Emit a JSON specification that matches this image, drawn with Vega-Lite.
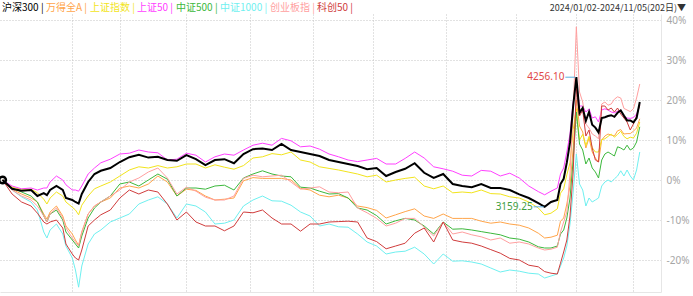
{
  "$schema": "https://vega.github.io/schema/vega-lite/v6.json",
  "width": 661,
  "height": 278,
  "autosize": {"type": "none"},
  "padding": {"left": 0, "top": 14, "right": 32, "bottom": 4},
  "background": "white",
  "title": {
    "text": "2024/01/02-2024/11/05(202日)▼",
    "anchor": "end",
    "frame": "group",
    "orient": "top",
    "offset": 0,
    "dx": 25,
    "dy": 10,
    "fontSize": 9,
    "fontWeight": "normal",
    "font": "Noto Sans CJK SC",
    "color": "#333333"
  },
  "config": {
    "view": {"stroke": null},
    "axis": {"labelFont": "Noto Sans", "titleFont": "Noto Sans"}
  },
  "datasets": {
    "main": [
      {"i":0,"沪深300":0,"万得全A":0,"上证指数":0,"上证50":0,"中证500":0,"中证1000":0,"创业板指":0,"科创50":0},
      {"i":3,"沪深300":-2.2,"万得全A":-2.3,"上证指数":-1.8,"上证50":-1.5,"中证500":-2.0,"中证1000":-2.5,"创业板指":-2.5,"科创50":-3.5},
      {"i":6,"沪深300":-2.7,"万得全A":-3.5,"上证指数":-2.3,"上证50":-2.2,"中证500":-3.0,"中证1000":-4.2,"创业板指":-4.0,"科创50":-5.5},
      {"i":9,"沪深300":-2.5,"万得全A":-4.5,"上证指数":-2.3,"上证50":-2.0,"中证500":-4.0,"中证1000":-5.5,"创业板指":-5.0,"科创50":-6.5},
      {"i":11,"沪深300":-4.0,"万得全A":-5.5,"上证指数":-3.2,"上证50":-2.5,"中证500":-5.5,"中证1000":-7.5,"创业板指":-6.5,"科创50":-8.3},
      {"i":13,"沪深300":-3.3,"万得全A":-8.5,"上证指数":-4.8,"上证50":-2.0,"中证500":-9.0,"中证1000":-13.0,"创业板指":-9.0,"科创50":-10.5},
      {"i":14,"沪深300":-3.8,"万得全A":-9.8,"上证指数":-6.0,"上证50":-2.0,"中证500":-10.5,"中证1000":-14.5,"创业板指":-10.5,"科创50":-11.0},
      {"i":15,"沪深300":-2.5,"万得全A":-8.0,"上证指数":-4.5,"上证50":-0.5,"中证500":-8.5,"中证1000":-12.5,"创业板指":-8.5,"科创50":-10.5},
      {"i":17,"沪深300":-1.5,"万得全A":-6.5,"上证指数":-3.0,"上证50":1.0,"中证500":-7.5,"中证1000":-11.0,"创业板指":-7.0,"科创50":-10.0},
      {"i":19,"沪深300":-2.5,"万得全A":-9.0,"上证指数":-4.0,"上证50":0.0,"中证500":-10.0,"中证1000":-13.5,"创业板指":-9.5,"科创50":-12.0},
      {"i":20,"沪深300":-4.5,"万得全A":-11.5,"上证指数":-5.5,"上证50":-1.2,"中证500":-13.0,"中证1000":-16.5,"创业板指":-12.0,"科创50":-16.0},
      {"i":22,"沪深300":-5.0,"万得全A":-13.5,"上证指数":-6.8,"上证50":-2.5,"中证500":-15.0,"中证1000":-19.5,"创业板指":-14.5,"科创50":-18.5},
      {"i":23,"沪深300":-5.5,"万得全A":-15.0,"上证指数":-7.5,"上证50":-2.5,"中证500":-16.0,"中证1000":-22.5,"创业板指":-15.5,"科创50":-19.5},
      {"i":24,"沪深300":-5.9,"万得全A":-16.3,"上证指数":-8.7,"上证50":-2.8,"中证500":-17.0,"中证1000":-26.8,"创业板指":-16.5,"科创50":-20.0},
      {"i":25,"沪深300":-3.5,"万得全A":-13.0,"上证指数":-6.3,"上证50":-1.5,"中证500":-14.0,"中证1000":-21.5,"创业板指":-13.0,"科创50":-17.5},
      {"i":27,"沪深300":-0.5,"万得全A":-8.5,"上证指数":-4.0,"上证50":1.5,"中证500":-9.5,"中证1000":-16.0,"创业板指":-8.5,"科创50":-11.5},
      {"i":29,"沪深300":1.5,"万得全A":-6.5,"上证指数":-2.2,"上证50":3.0,"中证500":-7.0,"中证1000":-13.5,"创业板指":-6.5,"科创50":-10.0},
      {"i":31,"沪深300":2.3,"万得全A":-5.5,"上证指数":-1.5,"上证50":4.3,"中证500":-5.5,"中证1000":-12.5,"创业板指":-5.5,"科创50":-8.7},
      {"i":34,"沪深300":3.0,"万得全A":-4.5,"上证指数":-0.5,"上证50":5.2,"中证500":-4.0,"中证1000":-10.5,"创业板指":-4.0,"科创50":-7.5},
      {"i":37,"沪深300":4.5,"万得全A":-2.0,"上证指数":1.0,"上证50":6.5,"中证500":-1.0,"中证1000":-9.5,"创业板指":-2.5,"科创50":-4.5},
      {"i":40,"沪深300":5.7,"万得全A":-1.5,"上证指数":2.5,"上证50":6.7,"中证500":-0.5,"中证1000":-8.5,"创业板指":-0.5,"科创50":-2.5},
      {"i":43,"沪深300":6.3,"万得全A":-2.0,"上证指数":3.3,"上证50":7.5,"中证500":-1.5,"中证1000":-6.0,"创业板指":0.5,"科创50":-3.5},
      {"i":46,"沪深300":5.6,"万得全A":-1.0,"上证指数":3.0,"上证50":7.0,"中证500":0.0,"中证1000":-5.0,"创业板指":2.0,"科创50":-2.5},
      {"i":49,"沪深300":5.8,"万得全A":1.0,"上证指数":3.6,"上证50":6.8,"中证500":1.5,"中证1000":-4.2,"创业板指":3.0,"科创50":-3.0},
      {"i":52,"沪深300":5.0,"万得全A":-0.5,"上证指数":3.0,"上证50":5.0,"中证500":0.2,"中证1000":-6.0,"创业板指":0.5,"科创50":-6.0},
      {"i":55,"沪深300":4.8,"万得全A":-4.0,"上证指数":3.3,"上证50":5.2,"中证500":-4.0,"中证1000":-9.5,"创业板指":-3.5,"科创50":-10.0},
      {"i":58,"沪深300":6.2,"万得全A":-2.3,"上证指数":4.0,"上证50":6.7,"中证500":-2.0,"中证1000":-6.0,"创业板指":-1.8,"科创50":-8.0},
      {"i":61,"沪深300":5.2,"万得全A":-2.6,"上证指数":4.0,"上证50":6.2,"中证500":-2.0,"中证1000":-6.5,"创业板指":-2.8,"科创50":-10.5},
      {"i":64,"沪深300":3.7,"万得全A":-4.0,"上证指数":3.0,"上证50":4.5,"中证500":-2.3,"中证1000":-8.0,"创业板指":-4.3,"科创50":-11.5},
      {"i":67,"沪深300":5.0,"万得全A":-5.0,"上证指数":3.8,"上证50":5.8,"中证500":-1.5,"中证1000":-11.0,"创业板指":-5.0,"科创50":-11.5},
      {"i":70,"沪深300":5.2,"万得全A":-4.8,"上证指数":3.2,"上证50":6.5,"中证500":-1.3,"中证1000":-10.8,"创业板指":-5.0,"科创50":-12.7},
      {"i":73,"沪深300":4.2,"万得全A":-4.5,"上证指数":2.7,"上证50":6.2,"中证500":-2.5,"中证1000":-10.0,"创业板指":-4.0,"科创50":-11.5},
      {"i":76,"沪深300":6.5,"万得全A":-0.2,"上证指数":3.6,"上证50":7.5,"中证500":0.5,"中证1000":-6.5,"创业板指":0.4,"科创50":-8.0},
      {"i":79,"沪深300":7.7,"万得全A":0.6,"上证指数":5.5,"上证50":8.7,"中证500":1.5,"中证1000":-5.0,"创业板指":1.2,"科创50":-8.2},
      {"i":82,"沪深300":7.9,"万得全A":0.4,"上证指数":5.8,"上证50":9.2,"中证500":2.3,"中证1000":-4.0,"创业板指":0.8,"科创50":-7.5},
      {"i":85,"沪深300":7.5,"万得全A":0.4,"上证指数":6.6,"上证50":8.7,"中证500":1.5,"中证1000":-5.2,"创业板指":1.0,"科创50":-9.5},
      {"i":88,"沪深300":9.0,"万得全A":0.4,"上证指数":6.3,"上证50":10.4,"中证500":1.0,"中证1000":-5.3,"创业板指":1.2,"科创50":-11.0},
      {"i":91,"沪深300":7.5,"万得全A":0.0,"上证指数":7.0,"上证50":9.8,"中证500":0.8,"中证1000":-6.3,"创业板指":-0.5,"科创50":-11.0},
      {"i":94,"沪深300":7.0,"万得全A":-2.1,"上证指数":5.0,"上证50":8.3,"中证500":-1.8,"中证1000":-8.0,"创业板指":-2.3,"科创50":-12.8},
      {"i":97,"沪深300":6.5,"万得全A":-2.5,"上证指数":4.5,"上证50":8.5,"中证500":-2.0,"中证1000":-9.0,"创业板指":-2.0,"科创50":-11.0},
      {"i":100,"沪深300":6.0,"万得全A":-3.8,"上证指数":3.3,"上证50":7.7,"中证500":-2.8,"中证1000":-11.5,"创业板指":-1.7,"科创50":-11.0},
      {"i":103,"沪深300":5.0,"万得全A":-4.2,"上证指数":2.9,"上证50":6.5,"中证500":-3.5,"中证1000":-11.0,"创业板指":-3.0,"科创50":-10.5},
      {"i":106,"沪深300":4.5,"万得全A":-3.8,"上证指数":2.5,"上证50":5.8,"中证500":-3.4,"中证1000":-11.7,"创业板指":-3.2,"科创50":-10.4},
      {"i":109,"沪深300":4.0,"万得全A":-4.5,"上证指数":2.0,"上证50":5.0,"中证500":-4.5,"中证1000":-11.8,"创业板指":-3.0,"科创50":-10.3},
      {"i":112,"沪深300":3.5,"万得全A":-6.5,"上证指数":1.5,"上证50":4.6,"中证500":-7.0,"中证1000":-13.5,"创业板指":-7.0,"科创50":-10.5},
      {"i":115,"沪深300":2.7,"万得全A":-6.9,"上证指数":0.8,"上证50":5.0,"中证500":-7.5,"中证1000":-15.5,"创业板指":-8.2,"科创50":-14.5},
      {"i":118,"沪深300":3.0,"万得全A":-7.6,"上证指数":1.2,"上证50":5.4,"中证500":-8.9,"中证1000":-16.5,"创业板指":-9.6,"科创50":-15.4},
      {"i":121,"沪深300":1.0,"万得全A":-9.5,"上证指数":-0.5,"上证50":4.0,"中证500":-11.0,"中证1000":-18.5,"创业板指":-11.5,"科创50":-17.2},
      {"i":124,"沪深300":2.0,"万得全A":-8.7,"上证指数":0.0,"上证50":4.0,"中证500":-10.2,"中证1000":-18.0,"创业板指":-10.8,"科创50":-16.5},
      {"i":127,"沪深300":2.8,"万得全A":-7.9,"上证指数":0.4,"上证50":5.4,"中证500":-9.6,"中证1000":-17.8,"创业板指":-9.6,"科创50":-15.8},
      {"i":130,"沪深300":4.2,"万得全A":-7.2,"上证指数":0.7,"上证50":7.0,"中证500":-10.0,"中证1000":-16.8,"创业板指":-9.6,"科创50":-13.3},
      {"i":133,"沪深300":1.8,"万得全A":-9.0,"上证指数":-1.5,"上证50":5.5,"中证500":-11.5,"中证1000":-18.5,"创业板指":-11.8,"科创50":-12.0},
      {"i":136,"沪深300":0.5,"万得全A":-9.6,"上证指数":-2.2,"上证50":3.3,"中证500":-13.5,"中证1000":-21.0,"创业板指":-14.0,"科创50":-15.5},
      {"i":139,"沪深300":1.5,"万得全A":-8.5,"上证指数":-1.5,"上证50":2.8,"中证500":-10.5,"中证1000":-18.5,"创业板指":-10.5,"科创50":-10.5},
      {"i":142,"沪深300":-1.0,"万得全A":-9.6,"上证指数":-3.2,"上证50":2.2,"中证500":-12.3,"中证1000":-20.3,"创业板指":-13.5,"科创50":-15.0},
      {"i":145,"沪深300":-1.5,"万得全A":-9.6,"上证指数":-3.0,"上证50":1.2,"中证500":-12.2,"中证1000":-20.2,"创业板指":-13.0,"科创50":-15.5},
      {"i":148,"沪深300":-1.8,"万得全A":-9.6,"上证指数":-3.2,"上证50":1.0,"中证500":-12.5,"中证1000":-20.5,"创业板指":-13.7,"科创50":-15.8},
      {"i":151,"沪深300":-1.0,"万得全A":-10.3,"上证指数":-2.5,"上证50":2.4,"中证500":-12.9,"中证1000":-21.0,"创业板指":-14.2,"科创50":-16.5},
      {"i":154,"沪深300":-2.0,"万得全A":-10.8,"上证指数":-3.4,"上证50":2.2,"中证500":-13.3,"中证1000":-22.0,"创业板指":-15.0,"科创50":-17.4},
      {"i":157,"沪深300":-2.0,"万得全A":-10.5,"上证指数":-3.5,"上证50":1.0,"中证500":-13.7,"中证1000":-23.0,"创业板指":-14.5,"科创50":-18.3},
      {"i":160,"沪深300":-2.5,"万得全A":-11.0,"上证指数":-4.2,"上证50":1.7,"中证500":-14.5,"中证1000":-22.5,"创业板指":-15.8,"科创50":-19.6},
      {"i":163,"沪深300":-3.6,"万得全A":-11.3,"上证指数":-4.5,"上证50":0.5,"中证500":-14.8,"中证1000":-22.8,"创业板指":-15.5,"科创50":-20.0},
      {"i":166,"沪深300":-4.5,"万得全A":-12.0,"上证指数":-5.5,"上证50":-1.5,"中证500":-15.5,"中证1000":-23.3,"创业板指":-16.0,"科创50":-21.3},
      {"i":169,"沪深300":-5.8,"万得全A":-13.3,"上证指数":-7.0,"上证50":-2.9,"中证500":-16.7,"中证1000":-23.5,"创业板指":-17.0,"科创50":-21.7},
      {"i":171,"沪深300":-6.7,"万得全A":-14.5,"上证指数":-8.7,"上证50":-3.7,"中证500":-17.0,"中证1000":-24.5,"创业板指":-17.5,"科创50":-22.9},
      {"i":173,"沪深300":-5.5,"万得全A":-14.3,"上证指数":-8.3,"上证50":-2.8,"中证500":-17.0,"中证1000":-24.0,"创业板指":-17.3,"科创50":-23.3},
      {"i":175,"沪深300":-5.0,"万得全A":-13.8,"上证指数":-7.2,"上证50":-2.0,"中证500":-16.5,"中证1000":-23.5,"创业板指":-16.8,"科创50":-23.5},
      {"i":176,"沪深300":-1.0,"万得全A":-10.3,"上证指数":-3.3,"上证50":1.5,"中证500":-13.5,"中证1000":-21.5,"创业板指":-13.0,"科创50":-20.8},
      {"i":177,"沪深300":0.3,"万得全A":-9.5,"上证指数":-2.2,"上证50":3.0,"中证500":-12.5,"中证1000":-19.5,"创业板指":-10.5,"科创50":-18.0},
      {"i":178,"沪深300":4.4,"万得全A":-6.0,"上证指数":1.3,"上证50":7.0,"中证500":-9.5,"中证1000":-16.5,"创业板指":-8.0,"科创50":-15.0},
      {"i":179,"沪深300":9.4,"万得全A":-1.5,"上证指数":4.3,"上证50":11.5,"中证500":-4.5,"中证1000":-11.0,"创业板指":1.7,"科创50":-9.0},
      {"i":180,"沪深300":18.6,"万得全A":8.0,"上证指数":12.6,"上证50":19.5,"中证500":5.0,"中证1000":-3.0,"创业板指":17.4,"科创50":2.0},
      {"i":181,"沪深300":25.7,"万得全A":20.0,"上证指数":17.8,"上证50":24.5,"中证500":17.0,"中证1000":6.5,"创业板指":38.3,"科创50":23.0},
      {"i":182,"沪深300":16.8,"万得全A":13.5,"上证指数":10.0,"上证50":18.5,"中证500":9.0,"中证1000":-1.0,"创业板指":22.0,"科创50":16.0},
      {"i":183,"沪深300":18.0,"万得全A":12.0,"上证指数":11.4,"上证50":18.5,"中证500":7.5,"中证1000":-2.5,"创业板指":19.5,"科创50":17.5},
      {"i":184,"沪深300":14.8,"万得全A":8.0,"上证指数":8.6,"上证50":17.0,"中证500":4.0,"中证1000":-6.5,"创业板指":14.0,"科创50":11.0},
      {"i":185,"沪深300":17.0,"万得全A":10.5,"上证指数":10.9,"上证50":17.8,"中证500":5.5,"中证1000":-4.5,"创业板指":13.0,"科创50":12.5},
      {"i":186,"沪深300":13.8,"万得全A":7.0,"上证指数":8.1,"上证50":15.5,"中证500":3.0,"中证1000":-5.5,"创业板指":11.5,"科创50":8.0},
      {"i":187,"沪深300":13.1,"万得全A":5.5,"上证指数":7.0,"上证50":15.8,"中证500":2.0,"中证1000":-5.0,"创业板指":11.0,"科创50":5.0},
      {"i":188,"沪深300":11.9,"万得全A":4.5,"上证指数":7.0,"上证50":14.5,"中证500":0.5,"中证1000":-4.5,"创业板指":10.3,"科创50":4.5},
      {"i":189,"沪深300":15.5,"万得全A":10.0,"上证指数":10.1,"上证50":17.5,"中证500":5.0,"中证1000":-1.5,"创业板指":19.0,"科创50":18.5},
      {"i":190,"沪深300":15.7,"万得全A":11.0,"上证指数":10.3,"上证50":17.8,"中证500":6.5,"中证1000":-0.5,"创业板指":19.5,"科创50":18.5},
      {"i":191,"沪深300":16.0,"万得全A":11.5,"上证指数":10.9,"上证50":17.5,"中证500":7.0,"中证1000":0.0,"创业板指":18.7,"科创50":17.5},
      {"i":192,"沪深300":16.2,"万得全A":11.2,"上证指数":11.5,"上证50":17.0,"中证500":6.5,"中证1000":-0.5,"创业板指":19.0,"科创50":18.0},
      {"i":193,"沪深300":15.8,"万得全A":11.0,"上证指数":10.7,"上证50":16.8,"中证500":6.0,"中证1000":0.3,"创业板指":20.2,"科创50":17.0},
      {"i":194,"沪深300":16.8,"万得全A":12.3,"上证指数":11.4,"上证50":17.2,"中证500":8.3,"中证1000":1.0,"创业板指":20.8,"科创50":18.0},
      {"i":195,"沪深300":17.4,"万得全A":12.6,"上证指数":12.2,"上证50":17.5,"中证500":8.0,"中证1000":2.3,"创业板指":20.5,"科创50":16.5},
      {"i":196,"沪深300":16.1,"万得全A":11.5,"上证指数":10.9,"上证50":15.8,"中证500":7.5,"中证1000":1.0,"创业板指":17.9,"科创50":15.5},
      {"i":197,"沪深300":14.9,"万得全A":11.6,"上证指数":10.3,"上证50":15.5,"中证500":8.7,"中证1000":2.5,"创业板指":17.5,"科创50":14.5},
      {"i":198,"沪深300":14.9,"万得全A":11.6,"上证指数":10.7,"上证50":15.4,"中证500":7.5,"中证1000":1.0,"创业板指":17.1,"科创50":12.5},
      {"i":199,"沪深300":14.4,"万得全A":12.2,"上证指数":10.5,"上证50":15.6,"中证500":8.0,"中证1000":0.0,"创业板指":17.8,"科创50":14.0},
      {"i":200,"沪深300":15.5,"万得全A":13.0,"上证指数":11.7,"上证50":16.5,"中证500":9.5,"中证1000":2.5,"创业板指":20.5,"科创50":16.0},
      {"i":201,"沪深300":19.5,"万得全A":15.3,"上证指数":14.5,"上证50":18.8,"中证500":13.3,"中证1000":7.0,"创业板指":24.0,"科创50":18.7}
    ],
    "ann": [
      {"i": 181, "v": 25.7, "label": "4256.10", "kind": "max"},
      {"i": 171, "v": -6.7, "label": "3159.25", "kind": "min"}
    ]
  },
  "encoding": {
    "x": {
      "field": "i",
      "type": "quantitative",
      "scale": {"domain": [-0.8, 207.7], "nice": false, "zero": false},
      "axis": {
        "orient": "bottom",
        "values": [22, 37, 58, 78, 98, 117, 140, 162, 181, 199],
        "labels": false,
        "ticks": false,
        "title": null,
        "domain": true,
        "domainColor": "#e6e6e6",
        "grid": true,
        "gridColor": "#c4c4c4",
        "gridDash": [1, 2]
      }
    },
    "y": {
      "field": "v",
      "type": "quantitative",
      "scale": {"domain": [-28, 41.5], "nice": false, "zero": false},
      "axis": {
        "orient": "right",
        "values": [-20, -10, 0, 10, 20, 30, 40],
        "labelExpr": "datum.value + '%'",
        "ticks": false,
        "title": null,
        "domain": true,
        "domainColor": "#e6e6e6",
        "labelColor": "#a6a6a6",
        "labelFontSize": 10,
        "labelPadding": 5,
        "grid": true,
        "gridColor": "#c4c4c4",
        "gridDash": [1, 2]
      }
    }
  },
  "layer": [
    {
      "data": {"name": "main"},
      "transform": [
        {"fold": ["沪深300", "万得全A", "上证指数", "上证50", "中证500", "中证1000", "创业板指", "科创50"], "as": ["s", "v"]},
        {"filter": "datum.s !== '沪深300'"}
      ],
      "mark": {"type": "line", "strokeWidth": 1},
      "encoding": {
        "color": {
          "field": "s",
          "type": "nominal",
          "scale": {
            "domain": ["沪深300", "万得全A", "上证指数", "上证50", "中证500", "中证1000", "创业板指", "科创50"],
            "range": ["#000000", "#ffa54a", "#f2e41c", "#ff40ff", "#3cb83c", "#6ff0f0", "#ff9f9f", "#d03c3c"]
          },
          "legend": {
            "orient": "none",
            "legendX": 0,
            "legendY": -11,
            "direction": "horizontal",
            "title": null,
            "padding": 0,
            "symbolOpacity": 0,
            "symbolSize": 0,
            "symbolStrokeWidth": 0,
            "labelOffset": -8,
            "columnPadding": 0,
            "labelFontSize": 10,
            "labelFont": "Noto Sans CJK SC",
            "labelExpr": "datum.label + ' |'",
            "encode": {"labels": {"update": {"fill": {"scale": "color", "field": "value"}}}}
          }
        }
      }
    },
    {
      "data": {"name": "main"},
      "transform": [
        {"fold": ["沪深300", "万得全A", "上证指数", "上证50", "中证500", "中证1000", "创业板指", "科创50"], "as": ["s", "v"]},
        {"filter": "datum.s === '沪深300'"}
      ],
      "mark": {"type": "line", "strokeWidth": 2},
      "encoding": {
        "color": {"field": "s", "type": "nominal"}
      }
    },
    {
      "data": {"name": "main"},
      "transform": [
        {"fold": ["沪深300"], "as": ["s", "v"]},
        {"filter": "datum.i === 0"}
      ],
      "mark": {"type": "point", "filled": false, "stroke": "#000000", "strokeWidth": 2.5, "size": 45, "opacity": 1}
    },
    {
      "data": {"name": "ann"},
      "mark": {"type": "rule", "stroke": "#5aaee0", "strokeWidth": 1, "xOffset": -1, "x2Offset": -11},
      "encoding": {"x2": {"field": "i"}}
    },
    {
      "data": {"name": "ann"},
      "mark": {"type": "text", "align": "right", "baseline": "middle", "dx": -12, "fontSize": 10, "font": "Noto Sans"},
      "encoding": {
        "text": {"field": "label"},
        "color": {"condition": {"test": "datum.kind === 'max'", "value": "#e04848"}, "value": "#3f9e3f"}
      }
    }
  ]
}
